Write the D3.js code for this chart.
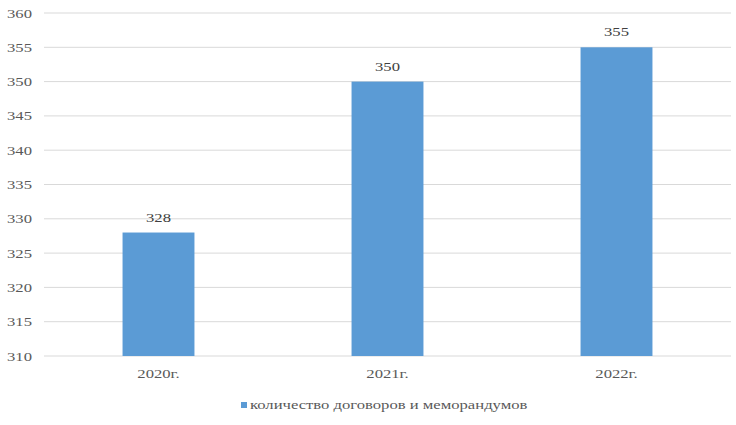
<!DOCTYPE html>
<html>
<head>
<meta charset="utf-8">
<script src="https://cdn.jsdelivr.net/npm/d3@7"></script>
</head>
<body style="margin:0">
<svg id="fig" width="736" height="425"></svg>
<script>
var categories = ["2020г.", "2021г.", "2022г."]
var values = [328, 350, 355]
var yTicks = [310, 315, 320, 325, 330, 335, 340, 345, 350, 355, 360]
var seriesName = "количество договоров и меморандумов"

var FONT = "'Liberation Serif', 'Times New Roman', Tinos"
var STRETCH = 1.28  // the reference text looks wider than normal
var SCALE = " scale(" + STRETCH + ",1)"

var svg = d3.select("#fig").style("font-family", FONT, "important"),
    margin = {top: 13, right: 5, bottom: 69, left: 44},
    width  = +svg.attr("width")  - margin.left - margin.right,
    height = +svg.attr("height") - margin.top  - margin.bottom;

var x = d3.scaleBand().domain(categories).range([0, width]).padding(0);
var y = d3.scaleLinear().domain([310, 360]).range([height, 0]);

var g = svg.append("g")
  .attr("transform", "translate(" + margin.left + "," + margin.top + ")");

function label(sel, anchor, color) {
  sel.attr("text-anchor", anchor)
    .attr("fill", color)
    .style("font-family", FONT, "important")
    .style("font-size", "13px", "important");
}

// gridlines
g.selectAll(".grid")
  .data(yTicks)
  .enter().append("line")
    .attr("x1", 0)
    .attr("x2", width)
    .attr("y1", function(d) { return y(d); })
    .attr("y2", function(d) { return y(d); })
    .attr("stroke", "#d9d9d9")
    .attr("stroke-width", 1);

// y labels
g.selectAll(".ylab")
  .data(yTicks)
  .enter().append("text")
    .attr("transform", function(d) { return "translate(-12," + y(d) + ")" + SCALE; })
    .attr("dy", "0.35em")
    .call(label, "end", "#595959")
    .text(function(d) { return d; });

var barW = x.bandwidth() * 0.314;

g.selectAll(".bar")
  .data(values)
  .enter().append("rect")
    .attr("class", "bar")
    .attr("x", function(d, i) { return x(categories[i]) + x.bandwidth() / 2 - barW / 2; })
    .attr("y", function(d) { return y(d); })
    .attr("width", barW)
    .attr("height", function(d) { return height - y(d); })
    .attr("fill", "#5b9bd5");

// value labels
g.selectAll(".val")
  .data(values)
  .enter().append("text")
    .attr("transform", function(d, i) {
      return "translate(" + (x(categories[i]) + x.bandwidth() / 2) + "," + (y(d) - 11) + ")" + SCALE;
    })
    .call(label, "middle", "#404040")
    .text(function(d) { return d; });

// x labels
g.selectAll(".xlab")
  .data(categories)
  .enter().append("text")
    .attr("transform", function(d) {
      return "translate(" + (x(d) + x.bandwidth() / 2) + "," + (height + 22) + ")" + SCALE;
    })
    .call(label, "middle", "#595959")
    .text(function(d) { return d; });

// legend
var legend = svg.append("g").attr("transform", "translate(241,409)");
legend.append("rect")
  .attr("x", 0).attr("y", -7)
  .attr("width", 6).attr("height", 6)
  .attr("fill", "#5b9bd5");
legend.append("text")
  .attr("transform", "translate(9,0)" + SCALE)
  .call(label, "start", "#595959")
  .text(seriesName);
</script>
</body>
</html>
